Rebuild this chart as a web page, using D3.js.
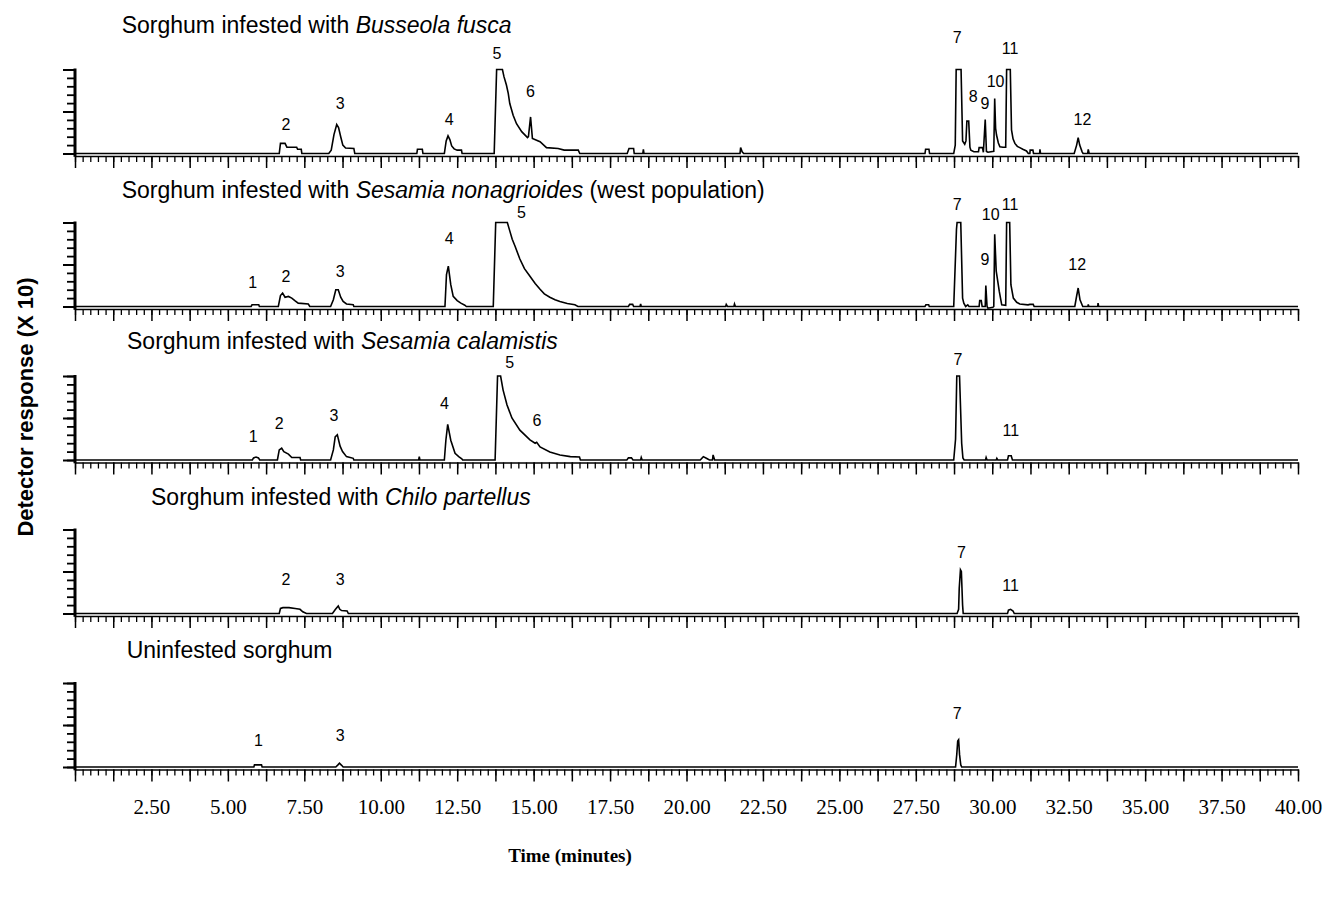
<!DOCTYPE html>
<html lang="en">
<head>
<meta charset="UTF-8">
<title>Sorghum volatiles - chromatograms</title>
<style>
  body { margin: 0; background: #fff; }
  svg { display: block; }
  .title { font-family: "Liberation Sans", Arial, sans-serif; font-size: 23px; fill: #000; }
  .peak { font-family: "Liberation Sans", Arial, sans-serif; font-size: 16px; fill: #000; }
  .xlab text { font-family: "Liberation Serif", "Times New Roman", serif; font-size: 21px; fill: #000; }
  .axis path, .axis line { stroke: #000; }
</style>
</head>
<body>
<svg id="chart"></svg>
<script src="https://d3js.org/d3.v7.min.js"></script>
<script>
// panel titles: [plain part, italic part, trailing plain part]
const titles = [
  ['Sorghum infested with ', 'Busseola fusca', ''],
  ['Sorghum infested with ', 'Sesamia nonagrioides', ' (west population)'],
  ['Sorghum infested with ', 'Sesamia calamistis', ''],
  ['Sorghum infested with ', 'Chilo partellus', ''],
  ['Uninfested sorghum', '', '']
];

const xTickLabels = [2.5, 5, 7.5, 10, 12.5, 15, 17.5, 20, 22.5, 25, 27.5, 30, 32.5, 35, 37.5, 40];
const yTicksMajor = [0, 1, 2];
const yTicksMinor = [0, 0.2, 0.4, 0.6, 0.8, 1, 1.2, 1.4, 1.6, 1.8, 2];

// traces: [time (min), response], response clipped at 2 on the detector
const traceBusseola = [
  [0, 0],
  [6.68, 0], [6.72, 0.24], [6.87, 0.24], [6.93, 0.15], [7.25, 0.15], [7.28, 0.1], [7.40, 0.1], [7.42, 0],
  [8.30, 0], [8.38, 0.08], [8.47, 0.45], [8.56, 0.69], [8.62, 0.62], [8.69, 0.4], [8.76, 0.2], [8.85, 0.13], [9.12, 0.12], [9.15, 0],
  [11.18, 0], [11.20, 0.1], [11.36, 0.1], [11.38, 0],
  [12.08, 0], [12.14, 0.3], [12.20, 0.42], [12.26, 0.33], [12.32, 0.18], [12.40, 0.11], [12.50, 0.08], [12.64, 0.08], [12.66, 0],
  [13.71, 0], [13.79, 2], [13.98, 2], [14.03, 1.83], [14.11, 1.63], [14.17, 1.43], [14.22, 1.19], [14.33, 0.91], [14.44, 0.71],
  [14.61, 0.52], [14.80, 0.38], [14.83, 0.4], [14.90, 0.87], [14.96, 0.36], [15.21, 0.28], [15.42, 0.14], [15.80, 0.12], [16.0, 0.08], [16.46, 0.08], [16.51, 0],
  [18.06, 0], [18.12, 0.12], [18.27, 0.12], [18.29, 0],
  [18.57, 0], [18.59, 0.1], [18.61, 0],
  [21.75, 0], [21.77, 0.14], [21.82, 0.04], [21.87, 0],
  [27.80, 0], [27.82, 0.1], [27.93, 0.1], [27.95, 0],
  [28.74, 0], [28.79, 0.2], [28.82, 2], [28.98, 2], [29.03, 0.3], [29.10, 0.22], [29.14, 0.3], [29.17, 0.77], [29.23, 0.77],
  [29.27, 0.15], [29.30, 0.08], [29.40, 0.04], [29.55, 0.04], [29.57, 0.14], [29.68, 0.14], [29.71, 0.03], [29.77, 0.81], [29.81, 0.05],
  [29.86, 0.03], [30.05, 0.05], [30.08, 1.31], [30.11, 0.6], [30.14, 0.44], [30.20, 0.25], [30.25, 0.16], [30.35, 0.15], [30.44, 0.15],
  [30.47, 2], [30.59, 2], [30.63, 0.56], [30.68, 0.35], [30.74, 0.24], [30.82, 0.17], [30.90, 0.14], [31.00, 0.1], [31.12, 0.06], [31.18, 0],
  [31.23, 0], [31.24, 0.08], [31.33, 0.08], [31.35, 0],
  [31.55, 0], [31.56, 0.1], [31.58, 0],
  [32.68, 0], [32.76, 0.2], [32.81, 0.38], [32.86, 0.2], [32.94, 0.04], [32.97, 0],
  [33.12, 0], [33.14, 0.1], [33.17, 0],
  [40, 0]
];

const traceNonagrioides = [
  [0, 0],
  [5.76, 0], [5.79, 0.04], [6.01, 0.04], [6.03, 0],
  [6.65, 0], [6.72, 0.26], [6.79, 0.32], [6.87, 0.22], [6.98, 0.24], [7.09, 0.2], [7.19, 0.14], [7.30, 0.08], [7.63, 0.06], [7.68, 0],
  [8.36, 0], [8.45, 0.16], [8.53, 0.4], [8.61, 0.4], [8.69, 0.22], [8.77, 0.12], [8.88, 0.06], [9.10, 0.04], [9.12, 0],
  [12.10, 0], [12.15, 0.76], [12.21, 0.96], [12.29, 0.52], [12.37, 0.24], [12.50, 0.14], [12.62, 0.08], [12.75, 0.03], [12.80, 0],
  [13.68, 0], [13.76, 2], [14.14, 2], [14.22, 1.8], [14.30, 1.6], [14.39, 1.44], [14.55, 1.13], [14.70, 0.9], [14.88, 0.72],
  [15.05, 0.55], [15.21, 0.41], [15.35, 0.3], [15.53, 0.22], [15.70, 0.16], [15.86, 0.12], [16.10, 0.07], [16.35, 0.04], [16.45, 0],
  [18.10, 0], [18.14, 0.05], [18.24, 0.05], [18.27, 0],
  [18.48, 0], [18.50, 0.06], [18.52, 0],
  [21.28, 0], [21.30, 0.05], [21.34, 0],
  [21.55, 0], [21.57, 0.06], [21.60, 0],
  [27.80, 0], [27.83, 0.04], [27.92, 0.04], [27.94, 0],
  [28.74, 0], [28.83, 1.84], [28.85, 2], [28.97, 2], [29.03, 0.2], [29.07, 0.08], [29.13, 0], [29.20, 0.04], [29.24, 0],
  [29.57, 0], [29.59, 0.14], [29.64, 0.14], [29.67, 0],
  [29.77, 0], [29.79, 0.5], [29.83, 0], [29.86, -0.04], [30.02, -0.02], [30.05, 0],
  [30.08, 1.72], [30.13, 0.84], [30.23, 0.36], [30.31, 0.04], [30.44, 0.03],
  [30.47, 2], [30.57, 2], [30.61, 0.52], [30.69, 0.2], [30.80, 0.1], [30.90, 0.06], [31.17, 0.04],
  [31.23, 0.05], [31.34, 0.05], [31.37, 0],
  [32.70, 0], [32.76, 0.25], [32.81, 0.44], [32.87, 0.16], [32.96, 0],
  [33.13, 0], [33.14, 0.05], [33.16, 0],
  [33.45, 0], [33.46, 0.08], [33.48, 0],
  [40, 0]
];

const traceCalamistis = [
  [0, 0],
  [5.80, 0], [5.84, 0.05], [5.92, 0.07], [6.00, 0.05], [6.04, 0],
  [6.62, 0], [6.68, 0.24], [6.76, 0.28], [6.83, 0.2], [6.98, 0.14], [7.09, 0.06], [7.36, 0.06], [7.38, 0],
  [8.36, 0], [8.45, 0.24], [8.51, 0.55], [8.58, 0.6], [8.67, 0.33], [8.75, 0.2], [8.88, 0.08], [9.10, 0.04], [9.12, 0],
  [11.24, 0], [11.26, 0.08], [11.28, 0],
  [12.08, 0], [12.13, 0.47], [12.19, 0.85], [12.29, 0.47], [12.43, 0.16], [12.55, 0.08], [12.65, 0.03], [12.68, 0],
  [13.74, 0], [13.82, 2], [13.92, 2], [14.00, 1.67], [14.13, 1.31], [14.29, 1.0], [14.55, 0.71], [14.88, 0.48], [15.05, 0.4],
  [15.10, 0.42], [15.21, 0.31], [15.53, 0.19], [15.86, 0.12], [16.20, 0.08], [16.50, 0.07], [16.53, 0],
  [18.05, 0], [18.10, 0.05], [18.20, 0.05], [18.25, 0],
  [18.50, 0], [18.52, 0.06], [18.55, 0],
  [20.45, 0], [20.55, 0.08], [20.65, 0.04], [20.75, 0],
  [20.85, 0], [20.87, 0.12], [20.92, 0],
  [28.74, 0], [28.80, 0.5], [28.84, 2], [28.93, 2], [29.00, 0.4], [29.04, 0.05], [29.08, 0],
  [29.78, 0], [29.80, 0.06], [29.83, 0],
  [30.13, 0], [30.15, 0.04], [30.18, 0],
  [30.50, 0], [30.53, 0.1], [30.62, 0.1], [30.66, 0],
  [40, 0]
];

const traceChilo = [
  [0, 0],
  [6.68, 0], [6.72, 0.12], [6.80, 0.14], [7.00, 0.14], [7.20, 0.12], [7.36, 0.1], [7.45, 0.04], [7.57, 0],
  [8.42, 0], [8.52, 0.1], [8.61, 0.18], [8.66, 0.1], [8.72, 0.07], [8.90, 0.06], [8.94, 0],
  [28.85, 0], [28.90, 0.1], [28.92, 0.6], [28.96, 1.04], [28.99, 1.0], [29.03, 0.2], [29.05, 0],
  [30.50, 0], [30.53, 0.08], [30.60, 0.1], [30.68, 0.06], [30.72, 0],
  [40, 0]
];

const traceUninfested = [
  [0, 0],
  [5.85, 0], [5.87, 0.05], [6.10, 0.05], [6.12, 0],
  [8.53, 0], [8.60, 0.05], [8.65, 0.09], [8.72, 0.04], [8.77, 0],
  [28.80, 0], [28.84, 0.3], [28.87, 0.62], [28.90, 0.65], [28.93, 0.3], [28.97, 0.05], [29.00, 0],
  [40, 0]
];

// peak numbers: [label, time, response at text baseline]
const peaksBusseola = [['2', 6.90, 0.55], ['3', 8.67, 1.06], ['4', 12.24, 0.68], ['5', 13.80, 2.26], ['6', 14.90, 1.35],
  ['7', 28.85, 2.63], ['8', 29.38, 1.23], ['9', 29.76, 1.06], ['10', 30.11, 1.58], ['11', 30.58, 2.37], ['12', 32.95, 0.68]];
const peaksNonagrioides = [['1', 5.81, 0.43], ['2', 6.90, 0.59], ['3', 8.67, 0.71], ['4', 12.24, 1.49], ['5', 14.60, 2.1],
  ['7', 28.85, 2.30], ['9', 29.76, 0.99], ['10', 29.95, 2.05], ['11', 30.58, 2.29], ['12', 32.78, 0.87]];
const peaksCalamistis = [['1', 5.83, 0.43], ['2', 6.68, 0.74], ['3', 8.47, 0.94], ['4', 12.08, 1.22], ['5', 14.22, 2.18],
  ['6', 15.11, 0.82], ['7', 28.88, 2.27], ['11', 30.61, 0.58]];
const peaksChilo = [['2', 6.90, 0.67], ['3', 8.67, 0.67], ['7', 28.99, 1.32], ['11', 30.60, 0.53]];
const peaksUninfested = [['1', 6.00, 0.49], ['3', 8.67, 0.62], ['7', 28.85, 1.15]];

const traces = [traceBusseola, traceNonagrioides, traceCalamistis, traceChilo, traceUninfested];
const peaks = [peaksBusseola, peaksNonagrioides, peaksCalamistis, peaksChilo, peaksUninfested];

function render() {
  const width = 1331, height = 897;
  const svg = d3.select('#chart').attr('width', width).attr('height', height);

  const panelTops = [69.5, 222.5, 376, 529.5, 683];
  const panelH = 84;
  const titlePos = [[121.7, 33.3], [121.7, 198.3], [127, 348.5], [151, 504.5], [126.7, 658.3]];

  const x = d3.scaleLinear().domain([0, 40]).range([75, 1298]);
  const minorX = d3.range(0, 40.001, 0.25);
  const majorX = d3.range(0, 40.001, 1.25);

  const line = d3.line().x(d => x(d[0]));

  traces.forEach((trace, i) => {
    const top = panelTops[i];
    const base = top + panelH;
    const axisY = base + 2.5;
    const y = d3.scaleLinear().domain([0, 2]).range([base, top]);
    const g = svg.append('g');

    // title
    const t = g.append('text').attr('class', 'title')
      .attr('x', titlePos[i][0]).attr('y', titlePos[i][1]);
    t.append('tspan').text(titles[i][0]);
    if (titles[i][1]) t.append('tspan').attr('font-style', 'italic').text(titles[i][1]);
    if (titles[i][2]) t.append('tspan').text(titles[i][2]);

    // x axis: minor then major ticks
    const xa = g.append('g').attr('class', 'axis').attr('transform', `translate(0,${axisY})`);
    xa.call(d3.axisBottom(x).tickValues(minorX).tickSize(6).tickSizeOuter(0).tickFormat(''));
    xa.selectAll('.tick line').attr('stroke-width', 1.3);
    xa.select('.domain').attr('stroke-width', 1.6);
    const xb = g.append('g').attr('class', 'axis').attr('transform', `translate(0,${axisY})`);
    xb.call(d3.axisBottom(x).tickValues(majorX).tickSize(12).tickSizeOuter(0).tickFormat(''));
    xb.selectAll('.tick line').attr('stroke-width', 1.5);
    xb.select('.domain').remove();

    // y axis
    const ya = g.append('g').attr('class', 'axis').attr('transform', 'translate(75,0)');
    ya.call(d3.axisLeft(y).tickValues(yTicksMinor).tickSize(8).tickSizeOuter(0).tickFormat(''));
    ya.selectAll('.tick line').attr('stroke-width', 1.8);
    ya.select('.domain').remove();
    const yb = g.append('g').attr('class', 'axis').attr('transform', 'translate(75,0)');
    yb.call(d3.axisLeft(y).tickValues(yTicksMajor).tickSize(12).tickSizeOuter(0).tickFormat(''));
    yb.selectAll('.tick line').attr('stroke-width', 2);
    yb.select('.domain').remove();
    g.append('line').attr('x1', x(0)).attr('x2', x(0))
      .attr('y1', y(2) - 1).attr('y2', axisY + 0.8)
      .attr('stroke', '#000').attr('stroke-width', 3);

    // chromatogram trace
    g.append('path').datum(trace)
      .attr('fill', 'none').attr('stroke', '#000').attr('stroke-width', 1.6)
      .attr('stroke-linejoin', 'miter')
      .attr('d', line.y(d => y(Math.min(d[1], 2))));

    // peak numbers
    g.selectAll('text.peak').data(peaks[i]).join('text')
      .attr('class', 'peak')
      .attr('text-anchor', 'middle')
      .attr('x', d => x(d[1]))
      .attr('y', d => y(d[2]))
      .text(d => d[0]);

    // tick labels only under the last panel
    if (i === traces.length - 1) {
      const xl = g.append('g').attr('class', 'xlab').attr('transform', `translate(0,${axisY})`);
      xl.call(d3.axisBottom(x).tickValues(xTickLabels).tickSize(0).tickPadding(30)
        .tickFormat(d3.format('.2f')));
      xl.select('.domain').remove();
    }
  });

  // axis titles
  svg.append('text')
    .attr('transform', 'translate(25,407) rotate(-90)')
    .attr('text-anchor', 'middle')
    .attr('dominant-baseline', 'central')
    .attr('font-family', '"Liberation Sans", Arial, sans-serif')
    .attr('font-weight', 'bold')
    .attr('font-size', 22)
    .text('Detector response (X 10)');

  svg.append('text')
    .attr('x', 570).attr('y', 862)
    .attr('text-anchor', 'middle')
    .attr('font-family', '"Liberation Serif", "Times New Roman", serif')
    .attr('font-weight', 'bold')
    .attr('font-size', 19)
    .text('Time (minutes)');
}

render();
</script>
</body>
</html>
